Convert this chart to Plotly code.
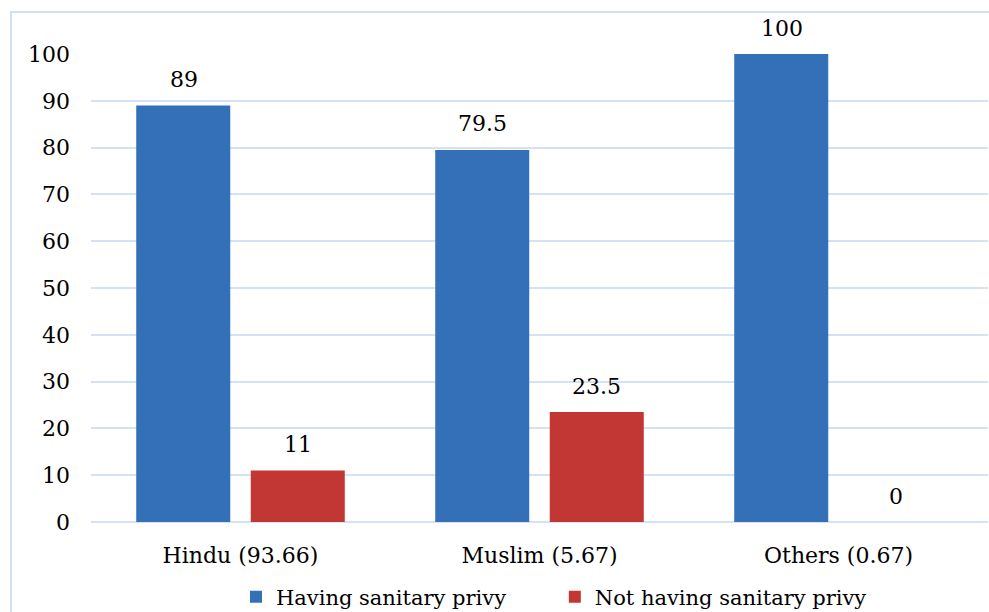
import plotly.graph_objects as go

# Religion groups (share of households in %) and sanitary privy access (%)
categories = ["Hindu (93.66)", "Muslim (5.67)", "Others (0.67)"]
having = [89, 79.5, 100]
not_having = [11, 23.5, 0]
y_ticks = [0, 10, 20, 30, 40, 50, 60, 70, 80, 90, 100]

FONT = "DejaVu Serif"
GRID = "#D5E2F2"
BLUE = "#3470B8"
RED = "#C23634"
BAR_SHIFT = 57  # px offset of each bar centre from its category centre

fig = go.Figure()
fig.add_trace(go.Bar(name="Having sanitary privy", x=categories, y=having,
                     legend="legend",
                     marker=dict(color=BLUE, line=dict(width=0))))
fig.add_trace(go.Bar(name="Not having sanitary privy", x=categories, y=not_having,
                     legend="legend2",
                     marker=dict(color=RED, line=dict(width=0))))

# value labels above each bar
annotations = []
for values, shift in ((having, -BAR_SHIFT), (not_having, BAR_SHIFT)):
    for cat, v in zip(categories, values):
        annotations.append(dict(x=cat, y=v, xref="x", yref="y", text=f"{v:g}",
                                showarrow=False, xshift=shift, yshift=26,
                                yanchor="middle",
                                font=dict(family=FONT, size=22, color="black")))

legend_common = dict(orientation="h", xref="container", yref="container",
                     y=1 - 597 / 612, xanchor="left", yanchor="middle",
                     font=dict(family=FONT, size=21, color="black"),
                     bgcolor="rgba(0,0,0,0)")

fig.update_layout(
    width=989, height=612,
    margin=dict(l=91, r=1, t=54, b=90),
    paper_bgcolor="white", plot_bgcolor="white",
    font=dict(family=FONT, size=22, color="black"),
    barmode="group", bargap=0.234, bargroupgap=0.179,
    showlegend=True,
    legend=dict(x=0.2386, **legend_common),
    legend2=dict(x=0.561, **legend_common),
    annotations=annotations,
    shapes=[dict(type="rect", xref="paper", yref="paper",
                 x0=-80 / 897, x1=1.2, y0=-0.5, y1=1 + 42 / 468,
                 line=dict(color="#D2E0F0", width=2), layer="below")],
)
fig.update_xaxes(showgrid=False, showline=False, ticks="", ticklabelstandoff=18,
                 tickfont=dict(family=FONT, size=22, color="black"))
fig.update_yaxes(range=[0, 100], tickvals=y_ticks, showgrid=True, gridcolor=GRID,
                 gridwidth=2, zeroline=True, zerolinecolor=GRID, zerolinewidth=2,
                 ticks="", ticklabelstandoff=20,
                 tickfont=dict(family=FONT, size=22, color="black"))

fig.write_html("out.html")
